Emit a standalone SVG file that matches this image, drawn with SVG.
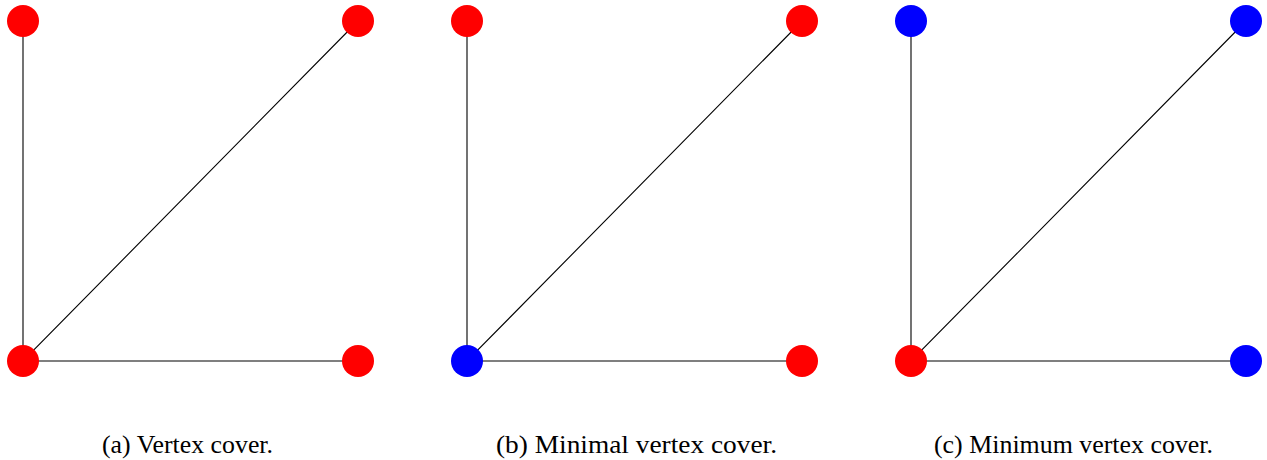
<svg xmlns="http://www.w3.org/2000/svg" width="1267" height="460" viewBox="0 0 1267 460">
<style>
.e{stroke:#000;stroke-width:1.1;fill:none}
.r{fill:#ff0000}
.b{fill:#0000ff}
.cap{font-family:"Liberation Serif","Times New Roman",serif;font-size:25px;fill:#000;text-anchor:middle}
</style>
<rect width="1267" height="460" fill="#fff"/>
<g id="connectors">
<path class="e" d="M23 21V361L358 21M23 361H358"/>
<path class="e" d="M467 21V361L802 21M467 361H802"/>
<path class="e" d="M911 21V361L1246 21M911 361H1246"/>
</g>
<g id="a1"><circle class="r" cx="23" cy="21" r="16"/></g>
<g id="a2"><circle class="r" cx="358" cy="21" r="16"/></g>
<g id="a3"><circle class="r" cx="23" cy="361" r="16"/></g>
<g id="a4"><circle class="r" cx="358" cy="361" r="16"/></g>
<g id="b1"><circle class="r" cx="467" cy="21" r="16"/></g>
<g id="b2"><circle class="r" cx="802" cy="21" r="16"/></g>
<g id="b3"><circle class="b" cx="467" cy="361" r="16"/></g>
<g id="b4"><circle class="r" cx="802" cy="361" r="16"/></g>
<g id="c1"><circle class="b" cx="911" cy="21" r="16"/></g>
<g id="c2"><circle class="b" cx="1246" cy="21" r="16"/></g>
<g id="c3"><circle class="r" cx="911" cy="361" r="16"/></g>
<g id="c4"><circle class="b" cx="1246" cy="361" r="16"/></g>
<text class="cap" x="187.5" y="453" textLength="171" lengthAdjust="spacingAndGlyphs">(a) Vertex cover.</text>
<text class="cap" x="636.5" y="453" textLength="281" lengthAdjust="spacingAndGlyphs">(b) Minimal vertex cover.</text>
<text class="cap" x="1073.5" y="453" textLength="279" lengthAdjust="spacingAndGlyphs">(c) Minimum vertex cover.</text>
</svg>
